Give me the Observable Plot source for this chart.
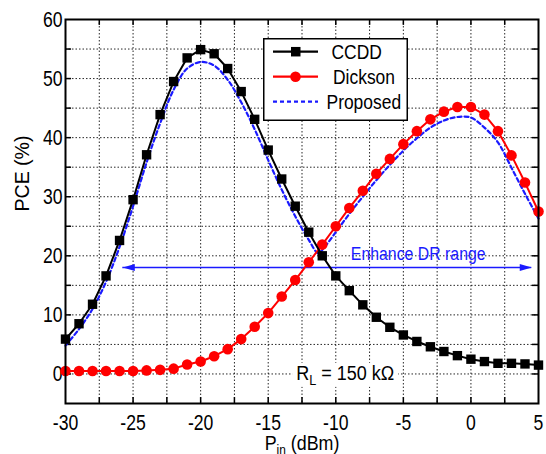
<!DOCTYPE html>
<html><head><meta charset="utf-8">
<script src="https://cdn.jsdelivr.net/npm/d3@7"></script>
<script src="https://cdn.jsdelivr.net/npm/@observablehq/plot@0.6"></script>
<style>
body{margin:0;background:#fff;}
#wrap{position:relative;width:546px;height:454px;font-family:"Liberation Sans",Arial,sans-serif;}
#legend{position:absolute;left:263px;top:38px;overflow:visible;}
</style></head><body><div id="wrap"></div>
<script>
// ---- data ----
const pin = [-30,-29,-28,-27,-26,-25,-24,-23,-22,-21,-20,-19,-18,-17,-16,-15,-14,-13,-12,-11,-10,-9,-8,-7,-6,-5,-4,-3,-2,-1,0,1,2,3,4,5];
const ccdd = [5.9,8.5,11.8,16.6,22.6,29.5,37.1,43.9,49.5,53.5,54.9,54.2,51.7,47.8,43.1,37.9,33.0,28.4,24.0,20.0,16.6,14.1,11.7,9.6,7.9,6.6,5.5,4.6,3.8,3.1,2.5,2.1,1.8,1.8,1.7,1.5];
const dickson = [0.5,0.5,0.5,0.5,0.5,0.5,0.6,0.7,0.9,1.6,2.1,3.0,4.2,5.9,8.0,10.3,13.1,15.9,18.9,21.9,25.0,28.1,31.0,33.9,36.4,38.9,41.1,43.1,44.4,45.2,45.2,43.9,41.1,37.0,32.4,27.5];
const propPin = [-30,-29,-28,-27,-26,-25,-24,-23,-22,-21,-20,-19,-18,-17,-16,-15,-14,-13,-12,-11.3,-11,-10,-9,-8,-7,-6,-5,-4,-3,-2,-1,0,1,2,3,4,5];
const proposed = [4.8,7.6,11.0,15.6,21.5,28.4,35.8,42.4,48.1,51.7,52.8,52.2,49.8,46.0,41.4,36.2,31.2,26.7,22.7,20.4,21.0,24.0,27.1,30.0,32.8,35.4,37.8,39.9,41.7,42.9,43.5,43.4,41.7,39.2,34.9,30.5,26.3];
const xTicks = [-30,-25,-20,-15,-10,-5,0,5];
const xGrid = [-27.5,-25,-22.5,-20,-17.5,-15,-12.5,-10,-7.5,-5,-2.5,0,2.5];
const yTicks = [0,10,20,30,40,50,60];
const yGrid = [0,5,10,15,20,25,30,35,40,45,50,55];
const arrowSpan = [{x1:-25.76, x2:4.5, y:18.0}];
const arrowLabel = [{x:-3.9, y:20.3, text:"Enhance DR range"}];
const rlLabel = [{x:-12.93, y:0.1, text:"R_L = 150 kΩ"}];
const seriesNames = ["CCDD","Dickson","Proposed"];

const rowsC = pin.map((p,i)=>({pin:p, pce:ccdd[i]}));
const rowsD = pin.map((p,i)=>({pin:p, pce:dickson[i]}));
const rowsP = propPin.map((p,i)=>({pin:p, pce:proposed[i]}));

const FONT = '"Liberation Sans",Arial,sans-serif';
const BLUE = "#1a1aff";

const headRight = {draw(ctx){ctx.moveTo(0,0);ctx.lineTo(-12,-3.5);ctx.lineTo(-12,3.5);ctx.closePath();}};
const headLeft = {draw(ctx){ctx.moveTo(0,0);ctx.lineTo(12,-3.5);ctx.lineTo(12,3.5);ctx.closePath();}};

const chart = Plot.plot({
  width: 546, height: 454,
  marginLeft: 65, marginRight: 8, marginTop: 19, marginBottom: 51,
  x: {domain: [-30, 5]},
  y: {domain: [-5, 60]},
  style: {fontFamily: FONT, fontSize: "22px", color: "#000", background: "#fff", overflow: "visible"},
  marks: [
    Plot.ruleX(xGrid, {stroke: "#000", strokeOpacity: 0.85, strokeDasharray: "1.5,2", strokeWidth: 1}),
    Plot.ruleY(yGrid, {stroke: "#000", strokeOpacity: 0.85, strokeDasharray: "1.5,2", strokeWidth: 1}),
    Plot.ruleX(xGrid, {y1: -5, y2: -4, stroke: "#000", strokeWidth: 1.5}),
    Plot.ruleX(xGrid, {y1: 59, y2: 60, stroke: "#000", strokeWidth: 1.5}),
    Plot.ruleY(yGrid, {x1: -30, x2: -29.55, stroke: "#000", strokeWidth: 1.5}),
    Plot.ruleY(yGrid, {x1: 4.55, x2: 5, stroke: "#000", strokeWidth: 1.5}),
    Plot.axisX({ticks: xTicks, tickSize: 0, tickPadding: 11, label: null, fontSize: 22, tickFormat: d => String(d)}),
    Plot.axisY({ticks: yTicks, tickSize: 0, tickPadding: 3, label: null, fontSize: 22, tickFormat: d => String(d)}),
    Plot.text(["PCE (%)"], {frameAnchor: "left", dx: -43, rotate: -90, fontSize: 21, lineAnchor: "middle", text: d=>d}),
    Plot.text(["P_in (dBm)"], {frameAnchor: "bottom", dy: 39.5, fontSize: 21, lineAnchor: "middle", text: d=>d}),
    // annotation arrow
    Plot.ruleY(arrowSpan, {y: "y", x1: "x1", x2: "x2", stroke: BLUE, strokeWidth: 1.5}),
    Plot.dot(arrowSpan, {x: "x2", y: "y", symbol: headRight, r: 4, fill: BLUE, stroke: "none"}),
    Plot.dot(arrowSpan, {x: "x1", y: "y", symbol: headLeft, r: 4, fill: BLUE, stroke: "none"}),
    Plot.text(arrowLabel, {x: "x", y: "y", text: "text", fill: BLUE, fontSize: 18}),
    Plot.text(rlLabel, {x: "x", y: "y", text: "text", textAnchor: "start", fontSize: 20}),
    // series
    Plot.line(rowsP, {x: "pin", y: "pce", stroke: BLUE, strokeWidth: 2.2, strokeDasharray: "4,3", curve: "catmull-rom"}),
    Plot.line(rowsD, {x: "pin", y: "pce", stroke: "#ff0000", strokeWidth: 2}),
    Plot.dot(rowsD, {x: "pin", y: "pce", r: 5.3, fill: "#ff0000", stroke: "none"}),
    Plot.line(rowsC, {x: "pin", y: "pce", stroke: "#000", strokeWidth: 2}),
    Plot.dot(rowsC, {x: "pin", y: "pce", r: 5.3, symbol: "square", fill: "#000", stroke: "none"}),
    Plot.frame({stroke: "#000", strokeWidth: 2})
  ]
});

document.getElementById("wrap").appendChild(chart);

// subscripts
chart.querySelectorAll("text").forEach(t => {
  const s = t.textContent;
  if (s === "R_L = 150 kΩ") {
    t.innerHTML = 'R<tspan dy="5" font-size="14">L</tspan><tspan dy="-5"> = 150 kΩ</tspan>';
  } else if (s === "P_in (dBm)") {
    t.innerHTML = 'P<tspan dy="5" font-size="14">in</tspan><tspan dy="-5"> (dBm)</tspan>';
  }
});

// legend
const lg = d3.select("#wrap").append("svg").attr("id","legend").attr("width",170).attr("height",83);
lg.append("rect").attr("x",0.75).attr("y",0.75).attr("width",143.5).attr("height",81.5).attr("fill","#fff").attr("stroke","#000").attr("stroke-width",1.5);
const rows = [
  {name: seriesNames[0], color: "#000", dash: null, mark: "square", tx: 68.5},
  {name: seriesNames[1], color: "#ff0000", dash: null, mark: "circle", tx: 70},
  {name: seriesNames[2], color: BLUE, dash: "4,3", mark: null, tx: 63.5}
];
rows.forEach((r,i) => {
  const cy = 13.7 + i*25;
  lg.append("line").attr("x1",10).attr("x2",55).attr("y1",cy).attr("y2",cy).attr("stroke",r.color).attr("stroke-width",2.2).attr("stroke-dasharray",r.dash);
  if (r.mark === "square") lg.append("rect").attr("x",28).attr("y",cy-4.75).attr("width",9.5).attr("height",9.5).attr("fill",r.color);
  if (r.mark === "circle") lg.append("circle").attr("cx",32.5).attr("cy",cy).attr("r",5.3).attr("fill",r.color);
  lg.append("text").attr("x",r.tx).attr("y",cy).attr("dy","0.35em").attr("font-size",21).attr("font-family",FONT).text(r.name);
});

// condense text horizontally (reference uses a narrow face)
const squeeze = {"PCE (%)": 0.93, "Enhance DR range": 0.88, "RL = 150 kΩ": 0.9, "Pin (dBm)": 0.85,
                 "CCDD": 0.83, "Dickson": 0.83, "Proposed": 0.83};
document.querySelectorAll("#wrap svg text").forEach(t => {
  const w = t.getComputedTextLength();
  const k = squeeze[t.textContent] ?? 0.8;
  if (w > 0) {
    t.setAttribute("textLength", (w * k).toFixed(2));
    t.setAttribute("lengthAdjust", "spacingAndGlyphs");
  }
});

// white background behind the R_L label
chart.querySelectorAll("text").forEach(t => {
  if (t.textContent === "RL = 150 kΩ") {
    const b = t.getBBox();
    const r = document.createElementNS("http://www.w3.org/2000/svg", "rect");
    r.setAttribute("x", b.x - 4); r.setAttribute("y", b.y + 1);
    r.setAttribute("width", b.width + 8); r.setAttribute("height", b.height - 2);
    r.setAttribute("fill", "#fff");
    const tr = t.getAttribute("transform");
    if (tr) r.setAttribute("transform", tr);
    t.parentNode.insertBefore(r, t);
  }
});
</script>
</body></html>
